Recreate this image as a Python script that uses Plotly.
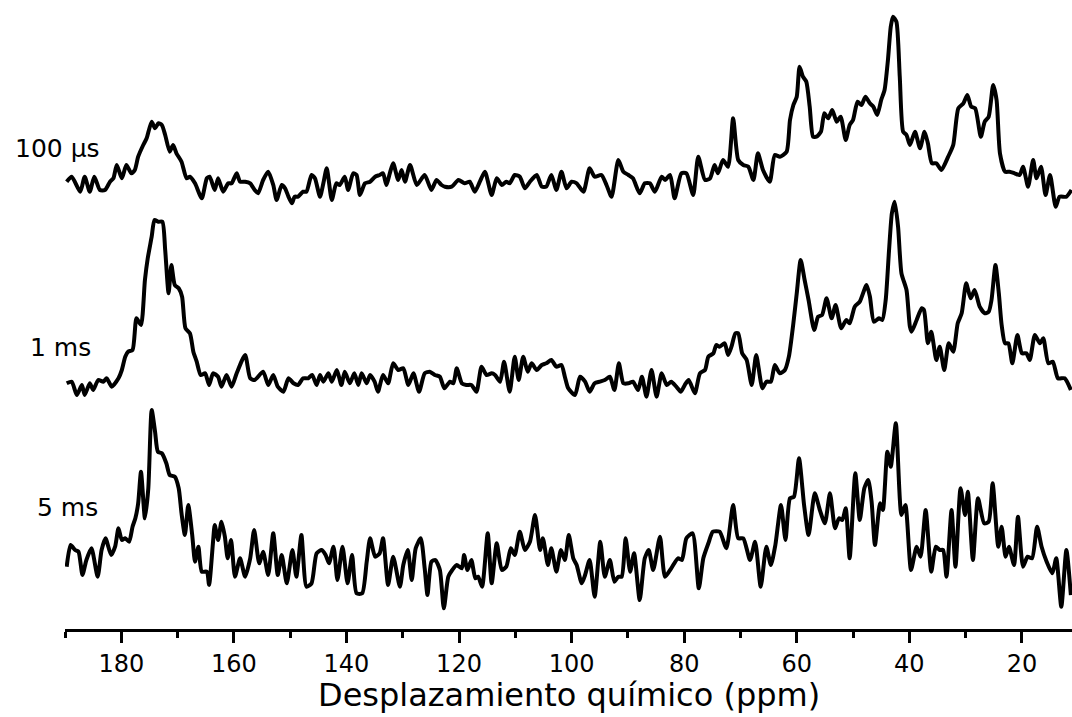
import plotly.graph_objects as go

# ---- data (ppm, intensity in arbitrary units) ----
ppm_100us = [189.7,188.8,187.3,186.5,185.6,184.8,183.8,182.9,182.0,181.4,180.8,179.9,179.1,178.2,177.6,177.0,176.1,175.5,174.6,174.0,173.4,172.8,172.2,171.4,170.8,170.2,169.3,168.4,167.8,166.9,165.7,164.8,164.3,163.4,162.8,161.9,161.0,160.4,159.5,158.9,158.0,157.1,156.3,155.7,154.8,153.9,153.0,152.4,151.5,150.9,150.3,149.7,149.2,148.6,147.7,147.1,146.2,145.6,144.7,144.1,143.5,142.6,141.8,141.2,140.3,139.7,138.8,138.2,137.6,136.7,135.8,134.9,134.1,133.5,132.9,132.3,131.7,
             130.8,130.2,129.6,128.7,127.5,126.1,124.9,124.0,123.1,122.5,121.3,120.1,119.0,118.1,117.2,116.3,115.4,114.2,113.3,112.4,111.6,111.0,110.1,109.2,108.3,107.4,106.2,105.3,104.5,103.6,102.7,101.8,100.9,100.0,99.1,97.9,96.8,95.9,94.7,93.8,92.9,91.7,90.8,89.9,89.1,87.9,87.0,86.1,85.2,84.0,83.4,82.5,81.7,80.5,79.6,78.4,77.5,76.3,75.4,74.6,74.0,73.1,72.2,71.3,
             70.4,69.5,68.6,67.7,66.9,66.0,64.8,63.9,63.0,61.8,61.2,60.6,60.0,59.5,58.9,58.3,57.7,57.1,56.5,55.7,55.1,54.4,53.7,52.9,52.2,51.3,50.6,50.0,49.2,48.5,47.8,47.0,46.4,45.7,45.0,44.4,43.8,43.3,42.9,42.3,41.7,41.1,40.5,39.9,39.0,38.1,37.3,36.7,36.0,35.2,34.3,33.1,32.2,31.3,30.4,29.7,29.0,28.3,27.3,26.6,25.9,25.1,24.5,23.9,23.0,22.2,21.3,20.4,19.8,18.9,18.0,17.4,16.6,15.8,15.0,14.0,13.3,12.1,11.2]
int_100us = [3.3,8.3,-6.7,8.3,-6.7,8.3,-5,-5,3.3,6.7,20,6.7,20,11.7,15,28.3,40,46.7,63.3,56.7,61.7,60,50,33.3,40,31.7,23.3,6.7,8.3,1.7,-13.3,6.7,8.3,-5,6.7,-6.7,1.7,1.7,11.7,3.3,3.3,1.7,-5,-8.3,5,13.3,0,-15,0,-3.3,-11.7,-18.3,-11.7,-11.7,-6.7,-6.7,10,6.7,-11.7,1.7,16.7,-15,1.7,0,8.3,-5,11.7,10,-10,1.7,3.3,8.3,10,11.7,0,11.7,21.7,
             5,15,3.3,20,0,10,-5,5,0,-1.7,-1.7,5,1.7,3.3,-6.7,3.3,13.3,-10,6.7,0,3.3,1.7,10,8.3,-3.3,3.3,10,-1.7,-1.7,10,-5,13.3,-3.3,3.3,1.7,-6.7,16.7,8.3,10,0,-11.7,25,13.3,10,6.7,-8.3,1.7,1.7,-6.7,8.3,5,10,-13.3,11.7,11.7,-10,28.3,5,6.7,20,11.7,25,18.3,66.7,
             25,20,18.3,5,31.7,15,3.3,30,28.3,33.3,65,80,88.3,118.3,108.3,103.3,78.3,48.3,48.3,53.3,71.7,66.7,75,63.3,68.3,45,60,65,83.3,80,88.3,81.7,78.3,70,85,95,125,158.3,168.3,163.3,108.3,53.3,50,40,53.3,36.7,53.3,41.7,21.7,21.7,15,28.3,40,76.7,81.7,90,78.3,76.7,48.3,63.3,68.3,100,85,31.7,13.3,13.3,11.7,10,18.3,-1.7,25,6.7,18.3,-10,10,-21.7,-11.7,-11.7,-5]

ppm_1ms = [189.7,188.8,187.9,187.0,186.5,185.6,185.0,184.1,183.2,182.6,181.7,180.5,179.9,179.3,178.8,178.0,177.3,176.5,175.8,175.3,174.6,174.1,173.4,172.7,172.2,171.6,171.1,170.5,169.8,169.2,168.6,167.8,167.2,166.6,165.9,165.1,164.4,163.7,162.8,162.2,161.3,160.4,159.5,158.0,157.1,156.3,154.8,153.9,153.0,152.2,151.2,150.3,149.4,148.6,147.7,146.8,146.1,145.3,144.7,144.1,143.2,142.6,141.7,140.9,140.3,139.4,138.6,137.9,137.3,136.4,135.8,135.0,134.4,133.5,132.6,131.7,130.8,
           129.9,129.0,128.1,127.1,126.1,125.2,124.3,123.4,122.6,121.6,121.0,120.4,119.5,118.7,117.8,116.9,116.0,115.1,114.2,113.6,112.7,112.0,111.0,110.1,109.4,108.6,107.8,107.1,106.2,105.3,104.5,103.6,102.7,101.8,101.2,100.6,99.4,98.5,97.6,96.8,95.9,95.0,94.1,93.2,92.4,91.6,90.8,89.9,89.1,88.2,87.5,86.7,85.8,84.9,84.0,83.1,82.3,81.4,80.6,79.9,79.2,78.1,77.2,76.3,75.7,74.8,74.3,73.7,72.8,72.2,71.6,70.9,
           70.4,69.7,68.9,68.0,67.2,66.1,65.4,64.6,63.9,63.0,62.1,61.4,60.6,60.0,59.3,58.6,57.9,56.9,56.2,55.5,54.7,53.8,53.1,52.1,51.2,50.6,49.7,48.8,47.6,47.0,46.3,45.4,44.8,44.2,43.6,43.1,42.6,42.0,41.4,40.5,39.9,39.6,38.7,37.8,37.4,36.7,36.1,35.2,34.6,33.8,33.0,32.2,31.4,30.7,29.9,29.1,28.4,27.5,26.6,25.9,25.4,24.7,24.1,23.6,23.0,22.4,21.7,20.8,20.0,19.2,18.6,17.7,16.8,16.2,15.3,14.5,13.6,12.4,11.3]
int_1ms = [1.7,3.3,-10,0,-10,1.7,-5,5,3.3,6.7,-1.7,6.7,15,28.3,33.3,35,66.7,60,105,126.7,148.3,165,163.3,163.3,135,91.7,120,100,96.7,88.3,56.7,51.7,33.3,23.3,10,11.7,0,11.7,8.3,-1.7,10,-1.7,11.7,30,6.7,5,13.3,0,10,-1.7,-6.7,6.7,1.7,0,6.7,6.7,10,0,10,3.3,11.7,3.3,15,0,13.3,1.7,11.7,0,11.7,1.7,10,3.3,-6.7,10,1.7,21.7,15,
           16.7,0,11.7,-6.7,11.7,13.3,10,8.3,-3.3,3.3,1.7,16.7,1.7,0,0,-6.7,18.3,10,11.7,10,3.3,23.3,-6.7,28.3,5,28.3,13.3,21.7,15,20,21.7,25,18.3,20,8.3,-3.3,-10,8.3,3.3,-6.7,1.7,3.3,5,8.3,-5,21.7,1.7,1.7,3.3,-5,8.3,-11.7,15,-11.7,11.7,0,3.3,-1.7,-6.7,0,5,-8.3,11.7,15,28.3,31.7,40,38.3,41.7,30,38.3,51.7,
           51.7,31.7,25,0,30,-3.3,3.3,3.3,20,11.7,15,28.3,61.7,91.7,125,105,85,55,68.3,70,86.7,66.7,80,56.7,65,61.7,78.3,83.3,100,88.3,63.3,66.7,65,85,135,171.7,183.3,158.3,111.7,95,58.3,53.3,65,76.7,75,41.7,53.3,25,38.3,15,41.7,33.3,61.7,71.7,101.7,86.7,95,78.3,71.7,73.3,85,120,91.7,60,41.7,41.7,21.7,50,31.7,31.7,25,50,41.7,46.7,21.7,23.3,6.7,6.7,-5]

ppm_5ms = [189.7,189.0,188.2,187.6,186.9,186.2,185.3,184.2,183.5,182.8,181.8,181.1,180.5,179.9,179.3,178.6,178.0,177.5,177.0,176.5,175.8,175.2,174.6,174.0,173.5,172.8,172.0,171.4,170.5,169.8,169.3,168.7,168.1,167.4,166.9,166.3,165.7,164.8,164.4,163.7,163.4,162.8,162.2,161.6,161.1,160.5,159.8,158.9,158.0,157.1,156.4,155.5,154.8,153.9,153.0,152.2,151.5,150.6,149.6,148.9,148.0,147.1,146.2,145.3,144.4,143.7,143.1,142.3,141.6,140.7,139.8,139.0,138.2,137.2,136.4,135.8,134.9,134.1,133.5,132.6,131.7,
           130.5,129.9,129.1,128.4,127.7,126.8,126.1,125.6,124.9,124.2,123.4,122.7,121.9,121.2,120.4,119.5,119.1,118.5,117.8,117.1,116.6,115.9,114.9,114.2,113.3,112.4,111.6,110.8,110.1,109.2,108.3,107.4,106.5,105.6,105.1,104.2,103.6,102.7,101.9,101.2,100.5,99.7,99.1,98.2,97.6,96.8,95.9,94.9,94.1,93.2,92.4,91.7,91.1,90.4,89.6,88.9,87.9,87.0,86.3,85.5,84.3,83.4,82.3,81.1,80.4,79.6,78.5,77.4,76.6,75.7,74.9,73.7,72.5,71.3,
           70.4,69.5,68.3,67.4,66.4,65.4,64.6,63.8,62.8,62.0,61.2,60.5,59.6,58.7,57.9,56.8,55.9,55.0,54.1,53.2,52.5,51.9,51.3,50.6,49.6,48.8,48.0,47.3,46.7,46.1,45.2,44.7,43.9,43.3,42.4,41.4,40.7,39.7,38.7,38.0,37.1,36.1,35.3,34.6,34.0,33.4,32.5,31.8,30.9,30.1,29.6,28.7,27.8,26.7,25.9,25.2,24.2,23.6,22.9,22.3,21.4,20.7,19.8,19.0,18.2,17.3,16.5,15.6,14.6,13.9,13.0,12.1,11.3]
int_5ms = [13.3,35,30,28.3,5,20,31.7,3.3,30,41.7,25,33.3,51.7,40,41.7,38.3,53.3,61.7,76.7,108.3,61.7,91.7,170,148.3,128.3,126.7,116.7,105,103.3,91.7,66.7,45,75,45,18.3,33.3,8.3,8.3,-5,38.3,55,40,58.3,43.3,21.7,40,3.3,21.7,3.3,21.7,50,16.7,28.3,5,46.7,5,25,-3.3,30,3.3,45,-6.7,-3.3,26.7,30,25,16.7,33.3,0,33.3,-3.3,25,-13.3,-13.3,18.3,41.7,23.3,26.7,41.7,-5,23.3,
           -6.7,15,30,0,31.7,41.7,11.7,-15,18.3,20,10,-28.3,3.3,10,15,11.7,25,10,20,1.7,3.3,-6.7,46.7,-3.3,36.7,10,13.3,31.7,25,48.3,30,38.3,65,30,41.7,15,31.7,8.3,30,20,45,21.7,15,-3.3,5,20,-16.7,38.3,3.3,20,-1.7,3.3,3.3,41.7,8.3,26.7,-20,21.7,30,10,43.3,3.3,11.7,21.7,20,41.7,46.7,-8.3,21.7,36.7,48.3,48.3,31.7,75,
           41.7,41.7,20,38.3,-6.7,33.3,15,35,75,40,81.7,83.3,121.7,75,45,86.7,70,56.7,86.7,51.7,61.7,60,71.7,21.7,106.7,60,91.7,100,78.3,35,76.7,70,128.3,113.3,156.7,65,75,10,33.3,23.3,70,8.3,33.3,30,30,3.3,70,13.3,91.7,65,88.3,20,81.7,56.7,58.3,96.7,33.3,53.3,23.3,33.3,15,63.3,13.3,23.3,21.7,53.3,33.3,18.3,6.7,21.7,-26.7,30,-15]

series_labels = ["100 \u03bcs", "1 ms", "5 ms"]
series_offsets = [444, 244, 49]          # vertical stacking offsets (a.u.)
x_tick_values = [180, 160, 140, 120, 100, 80, 60, 40, 20]
x_title = "Desplazamiento qu\u00edmico (ppm)"

# ---- figure ----
fig = go.Figure()
for ppm, inten, off in zip([ppm_100us, ppm_1ms, ppm_5ms],
                           [int_100us, int_1ms, int_5ms],
                           series_offsets):
    fig.add_trace(go.Scatter(
        x=ppm, y=[v + off for v in inten], mode="lines",
        line=dict(color="black", width=4, shape="spline", smoothing=0.6),
        showlegend=False, hoverinfo="skip"))

FONT = "DejaVu Sans"
label_pos = [(-0.052, 481), (-0.037, 282), (-0.030, 122)]
for txt, (px, py) in zip(series_labels, label_pos):
    fig.add_annotation(text=txt, xref="paper", yref="y", x=px, y=py,
                       xanchor="left", yanchor="middle", showarrow=False,
                       font=dict(family=FONT, size=25, color="black"))

fig.add_annotation(text=x_title, xref="paper", yref="paper", x=0.5, y=-0.1375,
                   xanchor="center", yanchor="bottom", showarrow=False,
                   borderpad=0,
                   font=dict(family=FONT, size=32, color="black"))

fig.update_xaxes(range=[190, 11.1], tickmode="array", tickvals=x_tick_values,
                 ticks="outside", ticklen=11, tickwidth=2.5, tickcolor="black",
                 showline=True, linewidth=2.5, linecolor="black",
                 showgrid=False, zeroline=False,
                 tickfont=dict(family=FONT, size=24, color="black"),
                 minor=dict(dtick=10, tick0=0, ticks="outside", ticklen=6,
                            tickwidth=2.5, tickcolor="black", showgrid=False))
fig.update_yaxes(range=[0, 629], visible=False, showgrid=False, zeroline=False)

fig.update_layout(width=1072, height=717,
                  margin=dict(l=65, r=0, t=0, b=88),
                  plot_bgcolor="white", paper_bgcolor="white")

fig.write_html("out.html")
